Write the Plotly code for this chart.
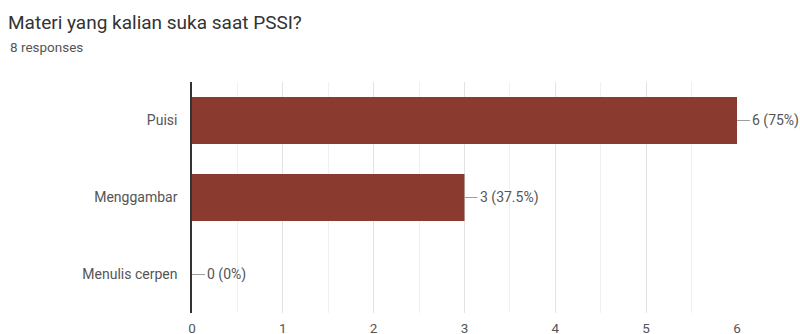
import plotly.graph_objects as go

categories = ["Puisi", "Menggambar", "Menulis cerpen"]
counts = [6, 3, 0]
total_responses = 8
x_ticks = [0, 1, 2, 3, 4, 5, 6]
title_text = "Materi yang kalian suka saat PSSI?"

bar_color = "#8a3a2f"
labels = [f"{c} ({c / total_responses * 100:g}%)" for c in counts]

W, H = 800, 334
L, R, T, B = 192, 63, 82, 21
pw, ph = W - L - R, H - T - B

fig = go.Figure()
fig.add_trace(go.Bar(
    x=counts, y=categories, orientation="h",
    marker=dict(color=bar_color, line=dict(width=0)),
    width=0.61, hoverinfo="skip",
))

for c, cat, lab in zip(counts, categories, labels):
    fig.add_annotation(
        x=c, y=cat, xref="x", yref="y", text=lab,
        showarrow=True, arrowhead=0, arrowwidth=1, arrowcolor="#9e9e9e",
        ax=13, ay=0, xanchor="left", yanchor="middle",
        font=dict(family="Roboto", size=14, color="#555555"),
    )

fig.add_annotation(
    x=(8 - L) / pw, y=(H - B - 47) / ph, xref="paper", yref="paper",
    text=f"{total_responses} responses",
    showarrow=False, xanchor="left", yanchor="middle",
    font=dict(family="Roboto", size=13.5, color="#555555"),
)

fig.update_layout(
    width=W, height=H,
    margin=dict(l=L, r=R, t=T, b=B, autoexpand=False),
    paper_bgcolor="white", plot_bgcolor="white",
    showlegend=False,
    title=dict(text=title_text, x=8 / W, xanchor="left",
               y=1 - 22 / H, yanchor="middle", xref="container", yref="container",
               font=dict(family="Roboto", size=19, color="#333333")),
)

fig.update_xaxes(
    range=[0, 6], tickvals=x_ticks, ticktext=[str(t) for t in x_ticks],
    showgrid=True, gridcolor="#e3e3e3", gridwidth=1,
    minor=dict(dtick=0.5, showgrid=True, gridcolor="#f0f0f0"),
    zeroline=False, showline=False, ticks="", ticklabelstandoff=5,
    automargin=False,
    tickfont=dict(family="Roboto", size=13.5, color="#555555"),
    fixedrange=True,
)
fig.update_yaxes(
    categoryorder="array", categoryarray=categories, autorange="reversed",
    showgrid=False, zeroline=False, showline=True, linecolor="#333333", linewidth=1.5,
    ticks="", ticklabelstandoff=10, automargin=False,
    tickfont=dict(family="Roboto", size=14, color="#555555"),
    fixedrange=True,
)

fig.write_html("out.html")
